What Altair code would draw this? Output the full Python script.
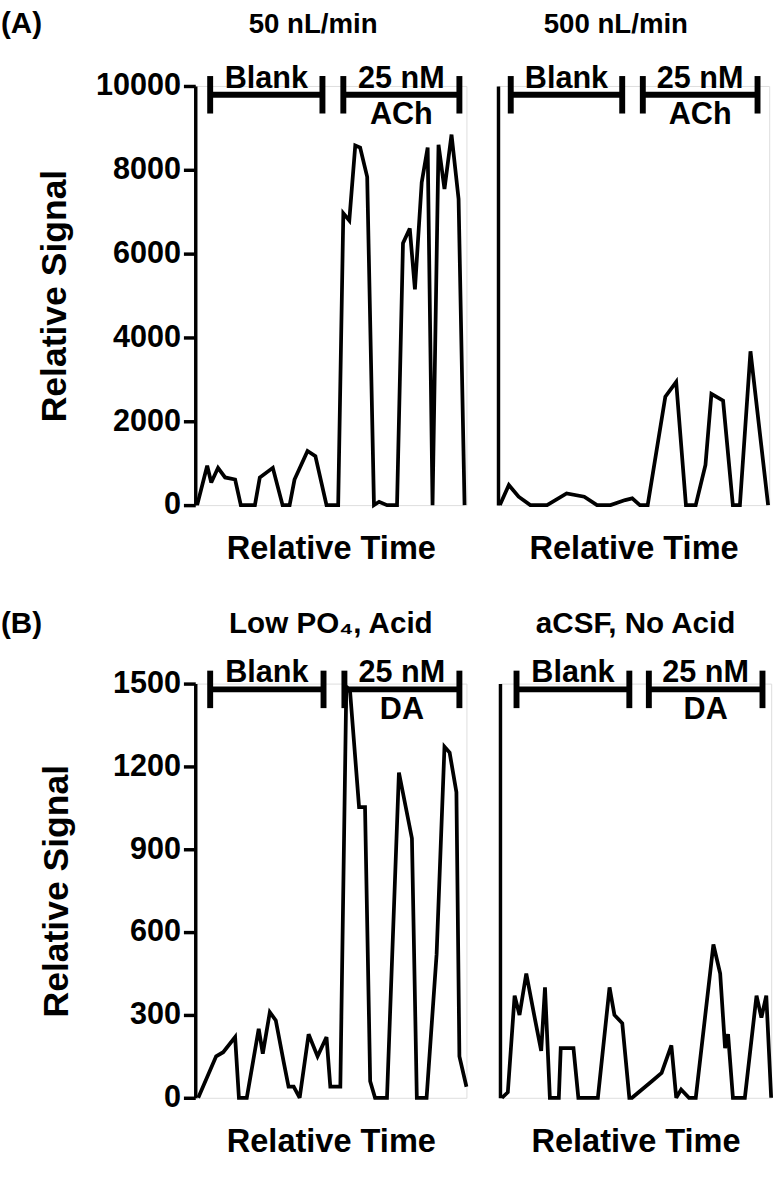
import altair as alt
import pandas as pd

FONT = "Liberation Sans"

# ---- (A) 50 nL/min ----
a1_time = [0.7, 4.4, 5.9, 8.4, 11.0, 14.7, 16.8, 22.0, 23.8, 28.6, 32.2, 34.8, 36.6, 41.4, 44.3, 48.4,
           52.7, 54.6, 56.8, 59.0, 60.8, 63.4, 65.9, 67.8, 70.7, 74.4, 76.6, 79.1, 81.0, 83.5, 85.7,
           87.5, 89.7, 91.9, 94.5, 97.1, 99.3]
a1_signal = [0, 940, 540, 890, 660, 610, 0, 0, 660, 890, 0, 0, 610, 1290, 1170, 0,
             0, 6960, 6790, 8580, 8530, 7830, 0, 80, 0, 0, 6250, 6600, 5150, 7700, 8530,
             0, 8600, 7540, 8840, 7300, 0]

# ---- (A) 500 nL/min ----
a2_time = [0.7, 4.0, 7.6, 11.9, 18.1, 25.3, 31.8, 36.5, 41.5, 46.9, 49.5, 52.3, 55.2, 61.7, 65.7,
           69.3, 72.9, 76.5, 78.7, 83.0, 86.6, 89.2, 93.1, 99.6]
a2_signal = [0, 480, 200, 0, 0, 280, 200, 0, 0, 120, 160, 0, 0, 2585, 2940,
             0, 0, 960, 2655, 2490, 0, 0, 3670, 0]

# ---- (B) Low PO4, Acid ----
b1_time = [1.1, 7.7, 10.3, 14.7, 16.1, 19.0, 23.4, 24.9, 27.5, 29.7, 32.6, 34.4, 36.3, 38.5, 41.8,
           45.1, 48.4, 49.8, 53.5, 55.7, 57.1, 60.4, 62.6, 64.5, 66.3, 70.7, 75.1, 79.9, 81.7, 85.3,
           89.0, 91.9, 93.8, 96.3, 97.4, 100]
b1_signal = [0, 150, 165, 220, 0, 0, 250, 160, 310, 280, 130, 40, 40, 0, 230,
             150, 220, 40, 40, 1490, 1470, 1053, 1053, 60, 0, 0, 1178, 939, 0, 0,
             520, 1271, 1250, 1107, 150, 40]

# ---- (B) aCSF, No Acid ----
b2_time = [0.7, 2.9, 5.4, 7.2, 9.7, 12.6, 15.2, 16.6, 18.4, 21.7, 22.4, 27.1, 28.9, 36.1, 40.4,
           42.2, 45.1, 47.7, 48.7, 56.0, 59.6, 63.2, 65.0, 66.8, 69.7, 72.2, 78.7, 81.2, 83.0, 84.1,
           85.9, 90.3, 94.6, 96.4, 98.2, 100]
b2_signal = [0, 20, 370, 300, 450, 300, 170, 400, 0, 0, 180, 180, 0, 0, 400,
             300, 270, 0, 0, 60, 90, 190, 0, 30, 0, 0, 555, 450, 180, 230,
             0, 0, 370, 290, 370, 0]

# bracket annotations (start, end in relative time units)
a1_br_start = [5.5, 54.6]
a1_br_end = [46.9, 97.4]
a2_br_start = [4.7, 53.4]
a2_br_end = [45.8, 95.7]
b1_br_start = [5.5, 55.0]
b1_br_end = [47.3, 97.4]
b2_br_start = [6.1, 54.9]
b2_br_end = [47.7, 96.8]
br_top = ["Blank", "25 nM"]
a_br_sub = ["", "ACh"]
b_br_sub = ["", "DA"]
a_level = 9790
b_level = 1479

a_ticks = [0, 2000, 4000, 6000, 8000, 10000]
b_ticks = [0, 300, 600, 900, 1200, 1500]

W = 275


def panel(times, signals, ymax, yticks, bs, be, level, sub, title, left, h,
          title_pad, tag, x_title_pad, title_y, title_size, title_shift):
    df = pd.DataFrame({"time": times, "signal": signals})
    xs = alt.Scale(domain=[0, 100], nice=False, zero=False)
    ys = alt.Scale(domain=[0, ymax], nice=False)
    xaxis = alt.Axis(title="Relative Time", labels=False, ticks=False, domain=False,
                     grid=False, titleFontSize=33, titlePadding=x_title_pad, titleFont=FONT,
                     titleFontWeight="bold", titleColor="black")
    if left:
        yaxis = alt.Axis(title="Relative Signal", values=yticks, format="d", grid=False,
                         labelFontSize=31, labelFont=FONT, labelFontWeight="bold",
                         labelColor="black", tickSize=12, tickWidth=3.5, tickColor="black",
                         domainWidth=3.5, domainColor="black",
                         titleFontSize=36, titleFont=FONT, titleFontWeight="bold",
                         titleColor="black", titlePadding=title_pad, labelPadding=3)
    else:
        yaxis = alt.Axis(title=None, labels=False, ticks=False, grid=False, domainWidth=3.5,
                         domainColor="black")

    def X(f):
        return alt.X(f, scale=xs, axis=xaxis)

    def Y(f):
        return alt.Y(f, scale=ys, axis=yaxis)

    line = alt.Chart(df).mark_line(color="black", strokeWidth=3.8, strokeJoin="miter",
                                   strokeMiterLimit=3).encode(
        x=X("time:Q"), y=Y("signal:Q"))
    br = pd.DataFrame({"start": bs, "end": be, "level": [level] * 2,
                       "top": br_top, "bottom": sub})
    br["mid"] = (br["start"] + br["end"]) / 2
    ends = pd.DataFrame({"pos": bs + be, "level": [level] * 4})
    bar = alt.Chart(br).mark_rule(color="black", strokeWidth=6).encode(
        x=X("start:Q"), x2="end:Q", y=Y("level:Q"))
    caps = alt.Chart(ends).mark_tick(color="black", orient="vertical", size=38,
                                     thickness=6, opacity=1).encode(
        x=X("pos:Q"), y=Y("level:Q"))
    ttop = alt.Chart(br).mark_text(font=FONT, fontSize=31, fontWeight="bold",
                                   baseline="alphabetic", dy=-7, color="black").encode(
        x=X("mid:Q"), y=Y("level:Q"), text="top:N")
    tbot = alt.Chart(br).mark_text(font=FONT, fontSize=31, fontWeight="bold",
                                   baseline="alphabetic", dy=30, color="black").encode(
        x=X("mid:Q"), y=Y("level:Q"), text="bottom:N")
    ttl = alt.Chart(pd.DataFrame({"lab": [title]})).mark_text(
        font=FONT, fontSize=title_size, fontWeight="bold", align="center",
        baseline="alphabetic", color="black").encode(
        x=alt.value(W / 2 + title_shift), y=alt.value(title_y), text="lab:N")
    layers = [line, bar, caps, ttop, tbot, ttl]
    if tag:
        lab = alt.Chart(pd.DataFrame({"lab": [tag]})).mark_text(
            font=FONT, fontSize=30, fontWeight="bold", align="left",
            baseline="alphabetic", color="black").encode(
            x=alt.value(-197), y=alt.value(title_y), text="lab:N")
        layers.append(lab)
    return alt.layer(*layers).properties(width=W, height=h)


a1 = panel(a1_time, a1_signal, 10000, a_ticks, a1_br_start, a1_br_end, a_level, a_br_sub,
           "50 nL/min", True, 425, 22, "(A)", 28, -54, 28, -18)
a2 = panel(a2_time, a2_signal, 10000, a_ticks, a2_br_start, a2_br_end, a_level, a_br_sub,
           "500 nL/min", False, 425, 0, None, 28, -54, 28, -18)
b1 = panel(b1_time, b1_signal, 1500, b_ticks, b1_br_start, b1_br_end, b_level, b_br_sub,
           "Low PO\u2084, Acid", True, 420, 38, "(B)", 28, -51, 30, 0)
b2 = panel(b2_time, b2_signal, 1500, b_ticks, b2_br_start, b2_br_end, b_level, b_br_sub,
           "aCSF, No Acid", False, 420, 0, None, 28, -51, 30, 0)

top = alt.hconcat(a1, a2, spacing=22).resolve_scale(x="independent", y="independent")
bottom = alt.hconcat(b1, b2, spacing=22).resolve_scale(x="independent", y="independent")

chart = alt.vconcat(top, bottom, spacing=43).resolve_scale(
    x="independent", y="independent"
).properties(padding={"left": 0, "top": 0, "right": 5, "bottom": 0}).configure_view(
    strokeWidth=0
).configure(background="white")

chart.save("out.html", embed_options={"renderer": "svg", "actions": False})
